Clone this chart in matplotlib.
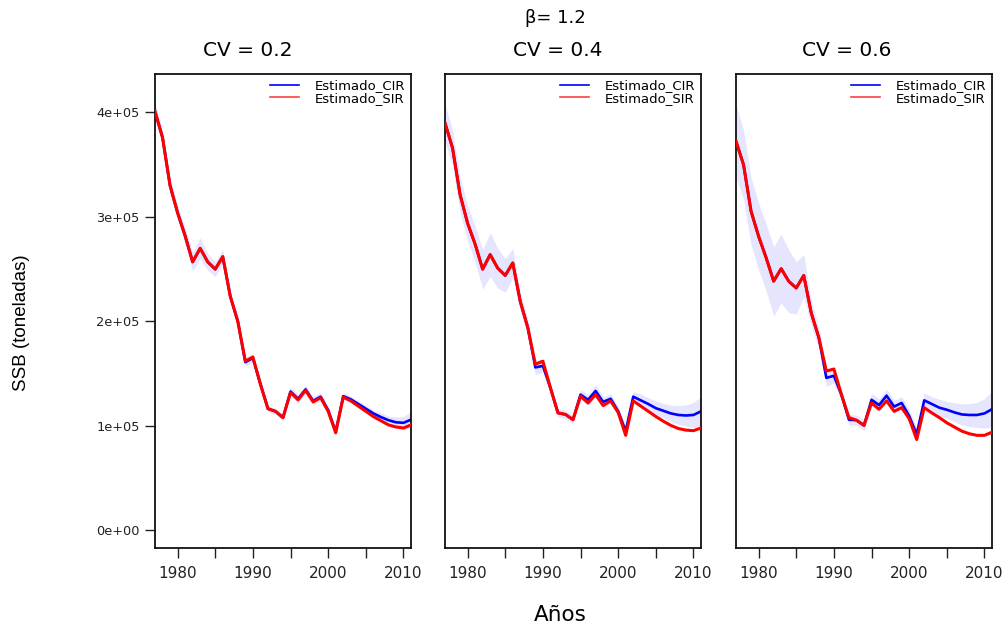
import matplotlib
matplotlib.use("Agg")
import matplotlib.pyplot as plt
from matplotlib.lines import Line2D
import numpy as np

years = list(range(1977, 2012))

cv_titles = ["CV = 0.2", "CV = 0.4", "CV = 0.6"]

# SSB estimates (thousands of tonnes)
sir_cv02 = [401, 376, 330, 304, 282, 257, 270, 257, 250, 262, 224, 200, 162, 166, 140,
            116.5, 114, 108, 132, 125, 134, 123, 127, 114, 93.5, 127.5, 124, 119, 114,
            109, 105, 101, 99, 98, 101]
cir_cv02 = [401, 376, 330, 304, 282, 257, 270, 257, 250, 262, 224, 200, 161, 165, 140,
            116.5, 114, 108, 133, 126, 135, 124, 128, 115, 94.5, 128.5, 125.5, 121, 116.5,
            112, 108.5, 105.5, 103.5, 103, 106]

sir_cv04 = [390, 366, 321.5, 294, 274, 250, 264, 251, 244, 256, 219, 194, 159, 162, 136.5,
            112.5, 111, 106, 128.5, 122, 130, 119.5, 124, 113, 91, 124, 119, 114, 109,
            104.5, 100.5, 97.5, 96, 95.5, 98]
cir_cv04 = [390, 366, 321.5, 294, 274, 250, 264, 251, 244, 256, 219, 194, 156, 157.5, 136.5,
            112.5, 111, 106, 130, 125, 133.5, 123, 126, 114, 95, 128, 124.5, 121, 117,
            114.5, 112, 110.5, 110, 110.5, 114]

sir_cv06 = [372.5, 350, 305.5, 281.5, 261, 238.5, 250.5, 238.5, 232, 244, 208, 184.5, 152.5, 154.5, 130,
            108, 105.5, 100.5, 122, 116, 124, 114, 117.5, 107, 87, 117.5, 112.5, 108, 103,
            99, 95, 92.5, 91, 91, 94]
cir_cv06 = [372.5, 350, 305.5, 281.5, 261, 238.5, 250.5, 238.5, 232, 244, 208, 184.5, 146, 148, 130,
            106, 105.5, 100.5, 125, 120, 129, 118.5, 122, 109.5, 92, 124.5, 121, 117.5, 115.5,
            113, 111, 110.5, 110.5, 112, 116]

# half-width of the CIR interval (thousands of tonnes)
band_cv02 = [8, 7, 7, 7, 8, 9, 10, 8, 7, 7, 5, 5, 4, 4, 4, 3, 3, 3, 4, 4, 4, 4, 4, 4, 4,
             3, 3, 3, 3, 3, 4, 4, 5, 6, 8]
band_cv04 = [18, 17, 17, 17, 17, 19, 21, 19, 16, 14, 9, 8, 7, 6, 5, 4, 4, 4, 5, 5, 6, 5, 5, 5, 5,
             5, 6, 6, 7, 7, 8, 9, 10, 12, 14]
band_cv06 = [35, 33, 32, 32, 32, 33, 33, 30, 25, 20, 12, 10, 8, 7, 6, 5, 5, 5, 6, 6, 6, 6, 6, 6, 6,
             7, 7, 8, 8, 9, 10, 11, 12, 14, 17]

y_ticks = [0, 100000, 200000, 300000, 400000]
y_tick_labels = ["0e+00", "1e+05", "2e+05", "3e+05", "4e+05"]
x_ticks = [1980, 1985, 1990, 1995, 2000, 2005, 2010]
x_tick_labels = ["1980", "", "1990", "", "2000", "", "2010"]

panels = [
    (sir_cv02, cir_cv02, band_cv02),
    (sir_cv04, cir_cv04, band_cv04),
    (sir_cv06, cir_cv06, band_cv06),
]

plt.rcParams["font.family"] = ["DejaVu Sans"]

fig = plt.figure(figsize=(10.06, 6.28), dpi=100)
W, H = 1006, 628

lefts = [155, 445, 736]
title_x = [248, 558, 847]
ax_w = 256
top, bottom = 74, 548

yrs = np.array(years)
for i, (sir, cir, band) in enumerate(panels):
    ax = fig.add_axes([lefts[i] / W, 1 - bottom / H, ax_w / W, (bottom - top) / H])
    sir_v = np.array(sir) * 1000
    cir_v = np.array(cir) * 1000
    hw = np.array(band) * 1000
    ax.fill_between(yrs, cir_v - hw, cir_v + hw, color="#e5e5fd", lw=0, zorder=1)
    ax.plot(yrs, cir_v, color="#0000ff", lw=1.9, zorder=2)
    ax.plot(yrs, sir_v, color="#ff0000", lw=2.2, zorder=3)
    ax.set_xlim(1977, 2011)
    ax.set_ylim(-16800, 436800)
    ax.set_xticks(x_ticks)
    ax.set_xticklabels(x_tick_labels, fontsize=11)
    ax.tick_params(axis="x", direction="out", length=7, width=1.0, pad=6,
                   colors="#222222")
    if i == 0:
        ax.set_yticks(y_ticks)
        ax.set_yticklabels(y_tick_labels, fontsize=9.3)
        ax.tick_params(axis="y", direction="out", length=7, width=1.0, pad=4,
                       colors="#222222")
    else:
        ax.set_yticks([])
    for s in ax.spines.values():
        s.set_linewidth(1.3)
        s.set_color("#111111")
    handles = [Line2D([], [], color="#0000ff", lw=1.2),
               Line2D([], [], color="#ff4040", lw=1.2)]
    ax.legend(handles, ["Estimado_CIR", "Estimado_SIR"], loc="upper right",
              frameon=False, fontsize=9.5, handlelength=2.2, handletextpad=1.2,
              labelspacing=-0.05, borderaxespad=0.2, borderpad=0.2)
    fig.text(title_x[i] / W, 1 - 51 / H, cv_titles[i], ha="center", va="center",
             fontsize=14.5)

fig.text(555 / W, 1 - 18 / H, "\u03b2= 1.2", ha="center", va="center", fontsize=13)
fig.text(560 / W, 1 - 615 / H, "Años", ha="center", va="center", fontsize=15.5)
fig.text(22 / W, 1 - 323 / H, "SSB (toneladas)", ha="center", va="center",
         rotation=90, fontsize=13.5, family=["Liberation Sans", "DejaVu Sans"])

fig.savefig("out.png", dpi=100)
